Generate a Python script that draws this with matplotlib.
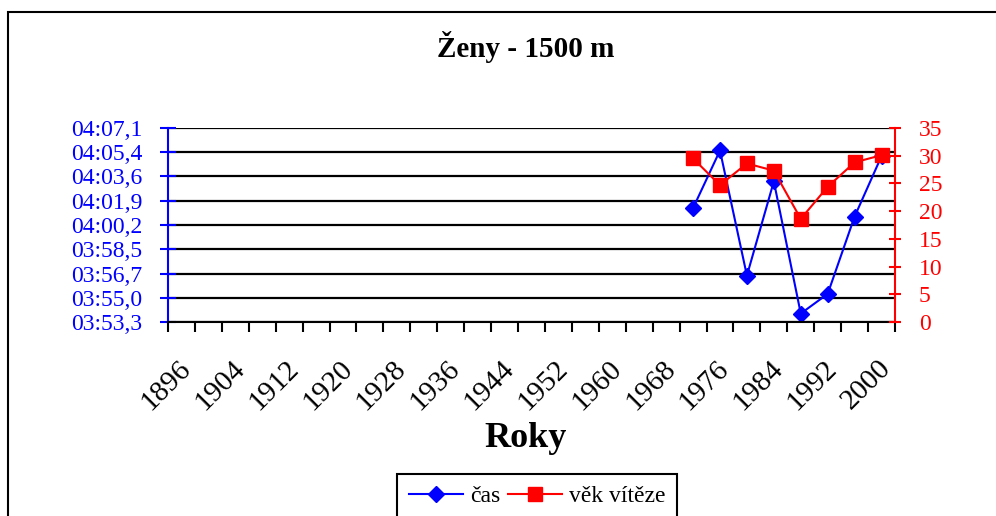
import matplotlib
matplotlib.use("Agg")
import matplotlib.pyplot as plt
from matplotlib.patches import Rectangle
from matplotlib.transforms import ScaledTranslation

plt.rcParams['font.family'] = ['Liberation Serif', 'DejaVu Serif']

# categories on the x axis (every Olympic year, labels on every other one)
years = list(range(1896, 2001, 4))

# winners of the women's 1500 m
race_years = [1972, 1976, 1980, 1984, 1988, 1992, 1996, 2000]
times_s = [241.4, 245.5, 236.6, 243.3, 233.9, 235.3, 240.8, 245.1]   # seconds
ages = [29.5, 24.7, 28.6, 27.3, 18.6, 24.4, 28.8, 30.1]

time_ticks = [233.3, 235.025, 236.75, 238.475, 240.2, 241.925, 243.65, 245.375, 247.1]
time_labels = ['03:53,3', '03:55,0', '03:56,7', '03:58,5', '04:00,2',
               '04:01,9', '04:03,6', '04:05,4', '04:07,1']
age_ticks = [0, 5, 10, 15, 20, 25, 30, 35]

xpos = [years.index(y) for y in race_years]

fig = plt.figure(figsize=(9.96, 5.16), dpi=100)
ax = fig.add_axes([168/996, 1-322/516, 727/996, 194/516])

# time series (left axis)
l1, = ax.plot(xpos, times_s, color='blue', lw=1.5, marker='D', ms=8.5, label='čas')
ax.set_ylim(233.3, 247.1)
ax.set_yticks(time_ticks, time_labels)
ax.yaxis.grid(True, color='black', lw=1.6)
ax.set_axisbelow(True)
ax.tick_params(axis='y', colors='blue', direction='inout', length=11, width=1.5,
               labelsize=17, pad=13)
ax.spines['left'].set_color('blue')
ax.spines['left'].set_linewidth(1.5)
ax.spines['bottom'].set_linewidth(1.5)
ax.spines['top'].set_visible(False)
ax.spines['right'].set_visible(False)

# category axis: tick marks between categories, labels on every other year
ax.set_xlim(-0.5, len(years) - 0.5)
ax.set_xticks([i - 0.5 for i in range(len(years) + 1)], [])
ax.set_xticks(range(0, len(years), 2), [str(y) for y in years[::2]], minor=True)
ax.tick_params(axis='x', which='major', direction='out', length=7, width=1.5)
ax.tick_params(axis='x', which='minor', length=0, pad=24, labelsize=21)
shift = ScaledTranslation(-4/100, 0, fig.dpi_scale_trans)
for lab in ax.get_xticklabels(minor=True):
    lab.set_rotation(45)
    lab.set_ha('right')
    lab.set_va('top')
    lab.set_rotation_mode('anchor')
    lab.set_transform(lab.get_transform() + shift)

# age of the winner (right axis)
ax2 = ax.twinx()
l2, = ax2.plot(xpos, ages, color='red', lw=1.5, marker='s', ms=9.5, label='věk vítěze')
ax2.set_ylim(0, 35)
ax2.set_yticks(age_ticks)
ax2.tick_params(axis='y', colors='red', direction='inout', length=8.6, width=1.5,
                labelsize=17, pad=13)
for s in ['left', 'top', 'bottom']:
    ax2.spines[s].set_visible(False)
ax2.spines['right'].set_color('red')
ax2.spines['right'].set_linewidth(1.5)

fig.text(526/996, 1-57/516, 'Ženy - 1500 m', ha='center', va='baseline',
         fontsize=21, fontweight='bold')
fig.text(526/996, 1-447/516, 'Roky', ha='center', va='baseline',
         fontsize=26, fontweight='bold')

leg = fig.legend(handles=[l1, l2], loc='upper left', bbox_to_anchor=(397/996, 1-474/516),
                 borderaxespad=0, ncol=2, fontsize=17, handlelength=2.3, handletextpad=0.3,
                 columnspacing=0.3, borderpad=0.5, fancybox=False, framealpha=1)
leg.get_frame().set_edgecolor('black')
leg.get_frame().set_linewidth(1.5)

# outer chart border (right and bottom edges fall outside the picture)
fig.patches.append(Rectangle((8/996, -0.1), 1.2, 1-12/516 + 0.1, transform=fig.transFigure,
                             fill=False, ec='black', lw=1.5))

fig.savefig('out.png', dpi=100)
